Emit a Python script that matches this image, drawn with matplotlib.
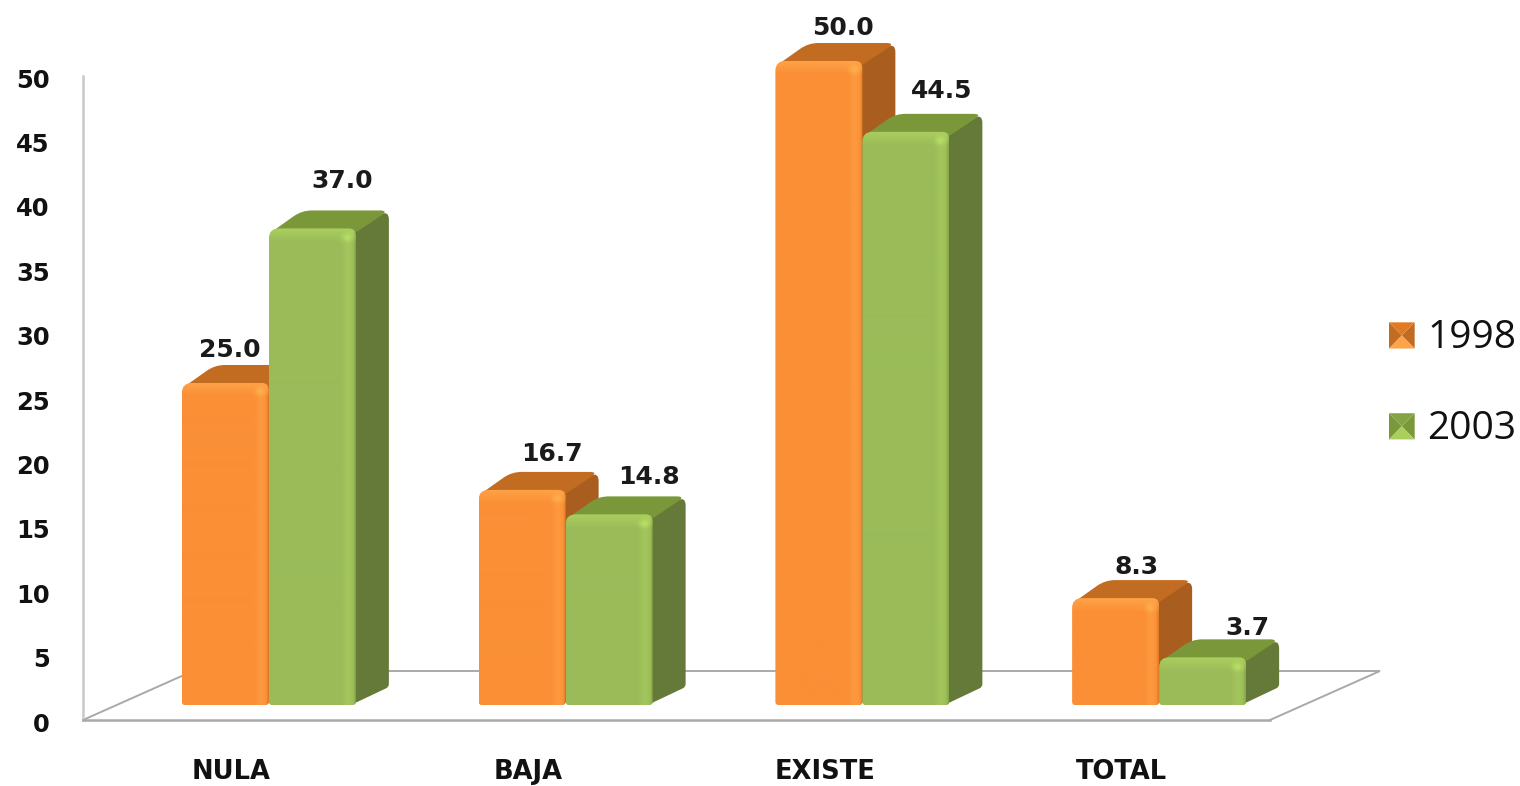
import numpy as np
import matplotlib
matplotlib.use("Agg")
import matplotlib.pyplot as plt
from matplotlib.patches import PathPatch, Polygon, Patch
from matplotlib.path import Path
from matplotlib.transforms import ScaledTranslation
from matplotlib.legend_handler import HandlerBase
from matplotlib.colors import to_rgb

# ---- data ----
categories = ["NULA", "BAJA", "EXISTE", "TOTAL"]
series_names = ["1998", "2003"]
values_1998 = [25.0, 16.7, 50.0, 8.3]
values_2003 = [37.0, 14.8, 44.5, 3.7]
y_ticks = [0, 5, 10, 15, 20, 25, 30, 35, 40, 45, 50]

# ---- style ----
W, H = 1520, 786
AX_L, AX_R, AX_T, AX_B = 83, 1270, 76, 720
ORANGE = dict(main="#FA8F36", light="#FFA348", edge="#E07A25", top="#C26C22", side="#A95E20")
GREEN = dict(main="#9BBB59", light="#AACF5E", edge="#84A544", top="#7A9839", side="#657A38")
BAR_W_PX, DX_PX, DY_PX = 87, 33, 18
FLOOR_PX = 15
SHIFT_PX = 37.5
LINE = "#A9A9A9"
offs_1998 = [(4, 33), (30, 36), (24, 33), (21, 31)]
offs_2003 = [(30, 47), (40, 37), (36, 41), (45, 29)]

fig = plt.figure(figsize=(W / 100, H / 100), dpi=100, facecolor="white")
ax = fig.add_axes([AX_L / W, 1 - AX_B / H, (AX_R - AX_L) / W, (AX_B - AX_T) / H])
ax.set_xlim(-0.5, len(categories) - 0.5)
ax.set_ylim(0, 50)
sx = (AX_R - AX_L) / len(categories)   # px per x unit
sy = (AX_B - AX_T) / 50                # px per y unit
ax.patch.set_alpha(0)

for s in ("top", "right"):
    ax.spines[s].set_visible(False)
for s in ("left", "bottom"):
    ax.spines[s].set_color(LINE)
    ax.spines[s].set_linewidth(1.8)
ax.spines["left"].set_color("#C8C8C8")

ax.set_yticks(y_ticks)
ax.set_xticks(range(len(categories)))
ax.set_xticklabels(categories)
ax.tick_params(axis="y", length=0, pad=24, labelsize=17.5, labelcolor="#111111")
ax.tick_params(axis="x", length=0, pad=28, labelsize=18.5, labelcolor="#111111")
for t in ax.get_xticklabels() + ax.get_yticklabels():
    t.set_fontweight("bold")
for t in ax.get_yticklabels():
    t.set_transform(t.get_transform() + ScaledTranslation(0, -2 / 100, fig.dpi_scale_trans))

# floor
fdx, fdy = 110 / sx, 49 / sy
ax.plot([-0.5, -0.5 + fdx, len(categories) - 0.5 + fdx, len(categories) - 0.5],
        [0, fdy, fdy, 0], color=LINE, lw=1.4, clip_on=False, zorder=1, solid_joinstyle="miter")


def rounded(points, radii):
    """Closed path through data-space points; each corner softened by its radius in px."""
    p = np.array(points, float) * [sx, sy]
    verts, codes = [], []
    n = len(p)
    for i in range(n):
        a, b, c = p[i - 1], p[i], p[(i + 1) % n]
        r1 = min(radii[i], np.linalg.norm(a - b) / 2)
        r2 = min(radii[i], np.linalg.norm(c - b) / 2)
        u = b + (a - b) / max(np.linalg.norm(a - b), 1e-6) * r1
        v = b + (c - b) / max(np.linalg.norm(c - b), 1e-6) * r2
        verts += [u, b, v]
        codes += [Path.MOVETO if i == 0 else Path.LINETO, Path.CURVE3, Path.CURVE3]
    verts.append(verts[0])
    codes.append(Path.CLOSEPOLY)
    return Path(np.array(verts) / [sx, sy], codes)


def face_image(w, h, pal):
    main, light, edge = map(lambda c: np.array(to_rgb(pal[c])), ("main", "light", "edge"))
    xs = np.arange(w) + 0.5
    ys = np.arange(h) + 0.5
    img = np.tile(main, (h, w, 1))
    hl = np.clip(1 - np.abs(xs - (w - 8)) / 7, 0, 1)[None, :, None]
    img = img * (1 - 0.55 * hl) + light * 0.55 * hl
    e = np.clip((xs - (w - 3)) / 3, 0, 1)[None, :, None]
    img = img * (1 - e) + edge * e
    top = np.clip(1 - ys / 14, 0, 1)[:, None, None]
    img = img * (1 - top) + light * top
    yy, xx = np.mgrid[0:h, 0:w]
    spot = np.exp(-(((xx - (w - 9)) / 5.0) ** 2 + ((yy - 9) / 4.0) ** 2))[..., None]
    img = img * (1 - 0.7 * spot) + np.minimum(light * 1.12, 1) * 0.7 * spot
    return img


floor = FLOOR_PX / sy
width = BAR_W_PX / sx
dx, dy = DX_PX / sx, DY_PX / sy
shift = SHIFT_PX / sx
x_pos = np.arange(len(categories))

series = [(values_1998, -width / 2, ORANGE, offs_1998), (values_2003, width / 2, GREEN, offs_2003)]
for k, (vals, off, pal, offs) in enumerate(series):
    bars = ax.bar(x_pos + shift + off, vals, width=width, bottom=floor, color=pal["main"],
                  linewidth=0, clip_on=False)
    for i, rect in enumerate(bars):
        z = 10 + 4 * i + 2 * k
        x0, x1 = rect.get_x(), rect.get_x() + rect.get_width()
        y0, y1 = rect.get_y(), rect.get_y() + rect.get_height()
        side = rounded([(x1 - 5 / sx, y0), (x1 - 5 / sx, y1), (x1 + dx, y1 + dy), (x1 + dx, y0 + dy)],
                       [0, 0, 9, 3])
        ax.add_patch(PathPatch(side, fc=pal["side"], ec="none", zorder=z, clip_on=False))
        top = rounded([(x0 + 2 / sx, y1 - 4 / sy), (x0 + dx, y1 + dy), (x1 + dx, y1 + dy),
                       (x1, y1 - 4 / sy)], [4, 10, 9, 3])
        ax.add_patch(PathPatch(top, fc=pal["top"], ec="none", zorder=z + 0.1, clip_on=False))
        img = face_image(int(BAR_W_PX), int(max(rect.get_height() * sy, 2)), pal)
        im = ax.imshow(img, extent=(x0, x1, y0, y1), aspect="auto", zorder=z + 0.2,
                       interpolation="bilinear")
        clip = PathPatch(rounded([(x0, y0), (x0, y1), (x1, y1), (x1, y0)], [3, 10, 7, 3]),
                         fc="none", ec="none", transform=ax.transData, clip_on=False)
        ax.add_patch(clip)
        im.set_clip_box(fig.bbox)
        im.set_clip_path(clip)
        rect.set_visible(False)
        ax.annotate(f"{vals[i]:.1f}", xy=((x0 + x1) / 2, y1), xytext=(offs[i][0] * 0.72, offs[i][1] * 0.72),
                    textcoords="offset points", ha="center", va="center", fontsize=18,
                    fontweight="bold", color="#1a1a1a", zorder=60, annotation_clip=False)

ax.set_xlim(-0.5, len(categories) - 0.5)
ax.set_ylim(0, 50)


class Swatch(HandlerBase):
    def create_artists(self, legend, orig, x0, y0, w, h, fs, trans):
        pal = orig.pal
        x1, y1 = x0 + w, y0 + h
        cx, cy = x0 + w / 2, y0 + h / 2
        polys = [([(x0, y0), (cx, cy), (x0, y1)], pal["top"]),
                 ([(x1, y0), (cx, cy), (x1, y1)], pal["top"]),
                 ([(x0, y1), (cx, cy), (x1, y1)], pal["edge"]),
                 ([(x0, y0), (cx, cy), (x1, y0)], pal["light"])]
        return [Polygon(p, closed=True, fc=c, ec="none", transform=trans) for p, c in polys]


h1 = Patch(label=series_names[0]); h1.pal = ORANGE
h2 = Patch(label=series_names[1]); h2.pal = GREEN
fig.legend(handles=[h1, h2], handler_map={Patch: Swatch()}, loc="upper left",
           bbox_to_anchor=(1389 / W, 1 - 319 / H), bbox_transform=fig.transFigure,
           frameon=False, borderaxespad=0, borderpad=0,
           prop={"family": "Open Sans", "size": 28}, labelcolor="#111111",
           handlelength=0.66, handleheight=0.66, handletextpad=0.33, labelspacing=1.36)

fig.savefig("out.png", dpi=100, facecolor="white")
